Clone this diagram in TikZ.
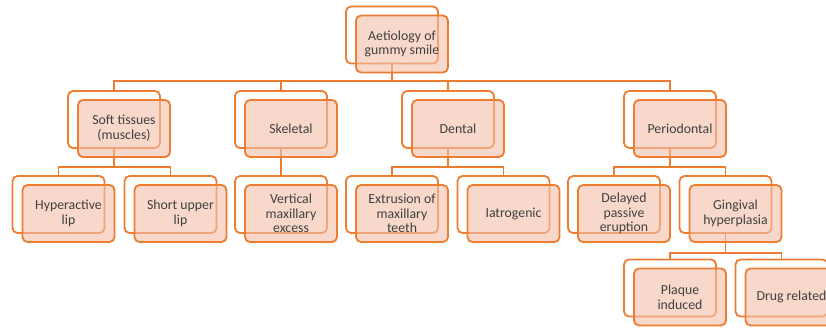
\documentclass[tikz,border=0pt]{standalone}
\usepackage{fontspec}
\setmainfont{Carlito}
\definecolor{edge}{HTML}{ED7D31}
\definecolor{pinkfill}{RGB}{244,190,168}
\definecolor{txt}{RGB}{64,64,64}
\tikzset{
  backbox/.style={draw=edge, line width=1.8pt, fill=white, rounded corners=5pt,
    minimum width=92pt, minimum height=57pt, inner sep=0pt},
  frontbox/.style={draw=edge, line width=1.8pt, fill=pinkfill, fill opacity=0.6, text opacity=1,
    rounded corners=5pt, minimum width=92pt, minimum height=57pt, inner sep=0pt,
    align=center, text=txt, font=\fontsize{13.8}{14.7}\selectfont},
  conn/.style={draw=edge, line width=1.8pt}
}
\begin{document}
\begin{tikzpicture}[x=1pt,y=-1pt]
\useasboundingbox (0,0) rectangle (826,329);
\clip (0,0) rectangle (826,329);
% back boxes
\node[backbox] (rootb) at (392,35) {};
\node[backbox] (softb) at (114,119.5) {};
\node[backbox] (skelb) at (281,119.5) {};
\node[backbox] (dentb) at (448,119.5) {};
\node[backbox] (periob) at (670,119.5) {};
\node[backbox] (hypb) at (58.5,204.5) {};
\node[backbox] (shortb) at (170.5,204.5) {};
\node[backbox] (vertb) at (281,204.5) {};
\node[backbox] (extb) at (392,204.5) {};
\node[backbox] (iatb) at (503.5,204.5) {};
\node[backbox] (delb) at (614,204.5) {};
\node[backbox] (gingb) at (725.5,204.5) {};
\node[backbox] (plaqb) at (670,288) {};
\node[backbox] (drugb) at (781.5,288) {};
% connectors
\draw[conn] (rootb.south) -- (392,81) -| (softb.north);
\draw[conn] (rootb.south) -- (392,81) -| (skelb.north);
\draw[conn] (rootb.south) -- (392,81) -| (dentb.north);
\draw[conn] (rootb.south) -- (392,81) -| (periob.north);
\draw[conn] (softb.south) -- (114,167) -| (hypb.north);
\draw[conn] (softb.south) -- (114,167) -| (shortb.north);
\draw[conn] (skelb.south) -- (vertb.north);
\draw[conn] (dentb.south) -- (448,167) -| (extb.north);
\draw[conn] (dentb.south) -- (448,167) -| (iatb.north);
\draw[conn] (periob.south) -- (670,167) -| (delb.north);
\draw[conn] (periob.south) -- (670,167) -| (gingb.north);
\draw[conn] (gingb.south) -- (725.5,253) -| (plaqb.north);
\draw[conn] (gingb.south) -- (725.5,253) -| (drugb.north);
% front boxes
\node[frontbox] (root) at (402,44) {Aetiology of\\gummy smile};
\node[frontbox] (soft) at (124,128.5) {Soft tissues\\(muscles)};
\node[frontbox] (skel) at (291,128.5) {Skeletal};
\node[frontbox] (dent) at (458,128.5) {Dental};
\node[frontbox] (perio) at (680,128.5) {Periodontal};
\node[frontbox] (hyp) at (68.5,213.5) {Hyperactive\\lip};
\node[frontbox] (short) at (180.5,213.5) {Short upper\\lip};
\node[frontbox] (vert) at (291,213.5) {Vertical\\maxillary\\excess};
\node[frontbox] (ext) at (402,213.5) {Extrusion of\\maxillary\\teeth};
\node[frontbox] (iat) at (513.5,213.5) {Iatrogenic};
\node[frontbox] (del) at (624,213.5) {Delayed\\passive\\eruption};
\node[frontbox] (ging) at (735.5,213.5) {Gingival\\hyperplasia};
\node[frontbox] (plaq) at (680,297) {Plaque\\induced};
\node[frontbox] (drug) at (791.5,297) {Drug related};
\end{tikzpicture}
\end{document}
